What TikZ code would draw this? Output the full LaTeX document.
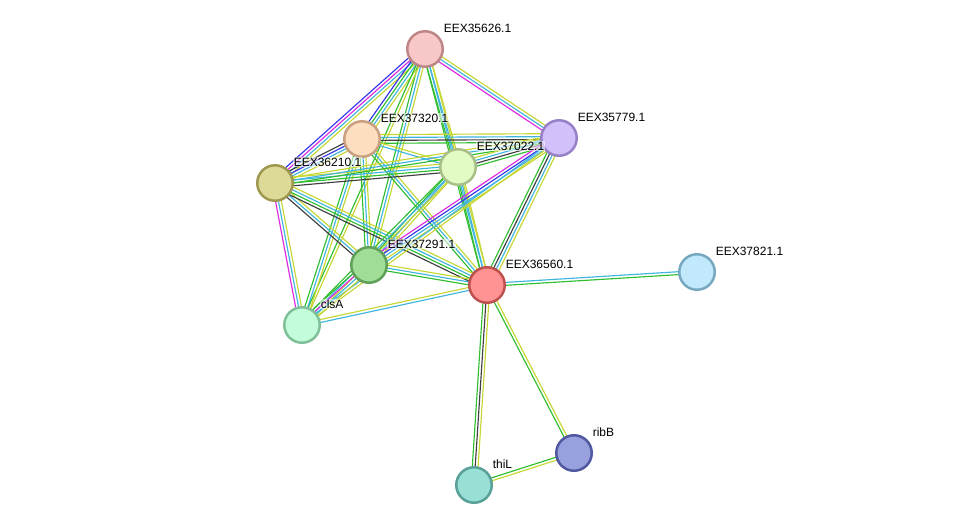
\documentclass[tikz,border=0pt]{standalone}
\usepackage{fontspec}
\setmainfont{Liberation Sans}
\usepackage{tikz}
\usetikzlibrary{calc, backgrounds}

\definecolor{strgreen}{RGB}{48,190,48}
\definecolor{strcyan}{RGB}{62,180,222}
\definecolor{stryellow}{RGB}{198,214,50}
\definecolor{strblack}{RGB}{64,64,64}
\definecolor{strmagenta}{RGB}{222,40,222}
\definecolor{strblue}{RGB}{52,52,235}

\begin{document}
\begin{tikzpicture}[
    x=1pt, y=-1pt,
    prot/.style={circle, minimum size=35.5pt, inner sep=0pt, line width=2.5pt},
    lbl/.style={anchor=west, font=\fontsize{12}{14}\selectfont, inner sep=0.6pt,
                fill=white, fill opacity=0.55, text opacity=1},
    link/.style={line width=1.15pt}
]
\useasboundingbox (0,0) rectangle (976,531);

\node[prot, fill={rgb,255:red,248;green,200;blue,200}, draw={rgb,255:red,190;green,135;blue,135}] (n35626) at (425,49) {};
\node[prot, fill={rgb,255:red,253;green,222;blue,192}, draw={rgb,255:red,200;green,160;blue,128}] (n37320) at (362,139) {};
\node[prot, fill={rgb,255:red,210;green,192;blue,250}, draw={rgb,255:red,152;green,128;blue,200}] (n35779) at (559,138) {};
\node[prot, fill={rgb,255:red,226;green,250;blue,196}, draw={rgb,255:red,168;green,192;blue,136}] (n37022) at (458,167) {};
\node[prot, fill={rgb,255:red,220;green,218;blue,150}, draw={rgb,255:red,160;green,152;blue,80}] (n36210) at (275,183) {};
\node[prot, fill={rgb,255:red,160;green,222;blue,152}, draw={rgb,255:red,96;green,160;blue,88}] (n37291) at (369,265) {};
\node[prot, fill={rgb,255:red,255;green,146;blue,146}, draw={rgb,255:red,190;green,80;blue,80}] (n36560) at (487,285) {};
\node[prot, fill={rgb,255:red,194;green,232;blue,252}, draw={rgb,255:red,120;green,168;blue,192}] (n37821) at (697,272) {};
\node[prot, fill={rgb,255:red,194;green,252;blue,218}, draw={rgb,255:red,128;green,192;blue,152}] (nclsA) at (302,325) {};
\node[prot, fill={rgb,255:red,152;green,160;blue,222}, draw={rgb,255:red,80;green,88;blue,160}] (nribB) at (574,453) {};
\node[prot, fill={rgb,255:red,152;green,224;blue,214}, draw={rgb,255:red,88;green,160;blue,152}] (nthiL) at (474,485) {};

\node[lbl] (l35626) at ($(n35626)+(18,-21)$) {EEX35626.1};
\node[lbl] (l37320) at ($(n37320)+(18,-21)$) {EEX37320.1};
\node[lbl] (l35779) at ($(n35779)+(18,-21)$) {EEX35779.1};
\node[lbl] (l37022) at ($(n37022)+(18,-21)$) {EEX37022.1};
\node[lbl] (l36210) at ($(n36210)+(18,-21)$) {EEX36210.1};
\node[lbl] (l37291) at ($(n37291)+(18,-21)$) {EEX37291.1};
\node[lbl] (l36560) at ($(n36560)+(18,-21)$) {EEX36560.1};
\node[lbl] (l37821) at ($(n37821)+(18,-21)$) {EEX37821.1};
\node[lbl] (lclsA) at ($(nclsA)+(18,-21)$) {clsA};
\node[lbl] (lribB) at ($(nribB)+(18,-21)$) {ribB};
\node[lbl] (lthiL) at ($(nthiL)+(18,-21)$) {thiL};

% evidence lines, one colour per channel, side by side
\begin{pgfonlayer}{background}
\foreach \a/\b/\cols in {
    n35626/n36210/{strblue,strmagenta,strcyan,stryellow},
    n35626/n37320/{strblue,strgreen,strcyan,stryellow},
    n35626/n37022/{strgreen,strcyan,stryellow},
    n35626/n36560/{strgreen,strcyan,stryellow},
    n35626/n35779/{strmagenta,strcyan,stryellow},
    n35626/n37291/{strgreen,strcyan,stryellow},
    n35626/nclsA/{strgreen,stryellow},
    n37320/n35779/{strgreen,strblack,strcyan,stryellow},
    n37320/n37022/{strcyan,stryellow},
    n37320/n36210/{strblack,strblue,strcyan,stryellow},
    n37320/n37291/{strgreen,strcyan,stryellow},
    n37320/nclsA/{strgreen,strcyan,stryellow},
    n37320/n36560/{strgreen,strcyan,stryellow},
    n36210/n37022/{strblack,strgreen,strcyan,stryellow},
    n36210/n35779/{strgreen,strcyan,stryellow},
    n36210/n37291/{strblack,strcyan,stryellow},
    n36210/n36560/{strblack,strgreen,strcyan,stryellow},
    n36210/nclsA/{strmagenta,strcyan,stryellow},
    n37022/n35779/{strgreen,strblack,strcyan,stryellow},
    n37022/n37291/{strgreen,strcyan,stryellow},
    n37022/nclsA/{strgreen,strcyan,stryellow},
    n37022/n36560/{strgreen,strcyan,stryellow},
    n35779/n36560/{strgreen,strblack,strcyan,stryellow},
    n35779/n37291/{strmagenta,strblue,strcyan,stryellow},
    n35779/nclsA/{strcyan,stryellow},
    n37291/n36560/{strgreen,strcyan,stryellow},
    n37291/nclsA/{strgreen,strmagenta,strcyan,stryellow},
    n36560/n37821/{strgreen,strcyan},
    n36560/nclsA/{stryellow,strcyan},
    n36560/nthiL/{strgreen,strblack,stryellow},
    n36560/nribB/{strgreen,stryellow},
    nthiL/nribB/{stryellow,strgreen}} {
  \foreach \c [count=\k] in \cols {\xdef\nlines{\k}}
  \foreach \c [count=\k] in \cols {
    \pgfmathsetmacro\off{(\k-(\nlines+1)/2)*2.9}
    \draw[link, \c] ($(\a.center)!\off pt!90:(\b.center)$) -- ($(\b.center)!\off pt!-90:(\a.center)$);
  }
}
\end{pgfonlayer}

\end{tikzpicture}
\end{document}
